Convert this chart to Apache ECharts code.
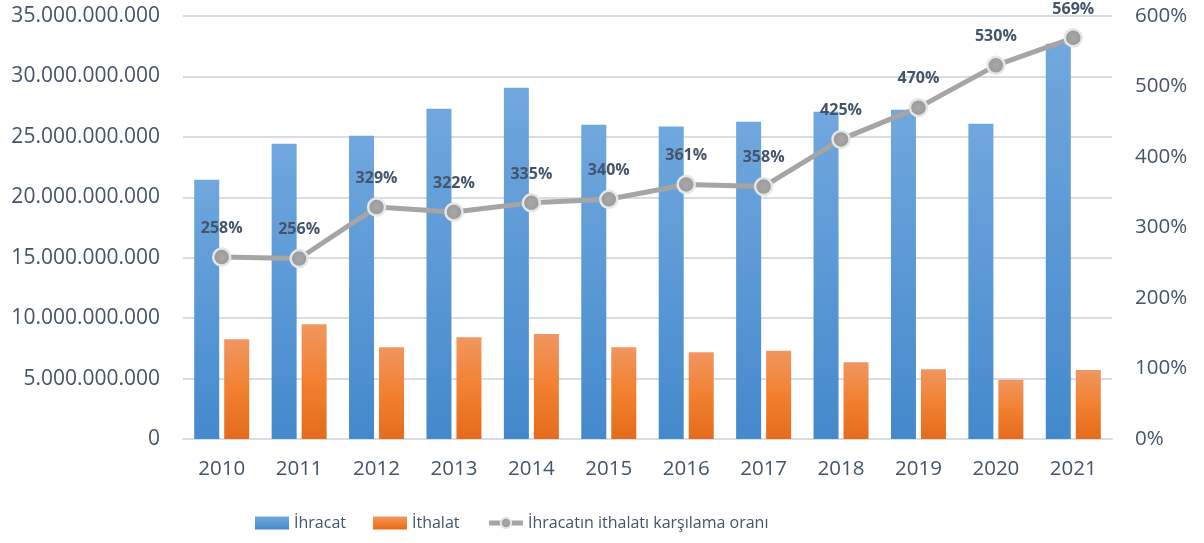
<!DOCTYPE html>
<html>
<head>
<meta charset="utf-8">
<script src="https://cdn.jsdelivr.net/npm/echarts@6/dist/echarts.min.js"></script>
<style>
  html, body { margin: 0; padding: 0; background: #ffffff; }
  #chart { width: 1204px; height: 543px; }
</style>
</head>
<body>
<div id="chart"></div>
<script>
// Yıllar
const years = ['2010', '2011', '2012', '2013', '2014', '2015', '2016', '2017', '2018', '2019', '2020', '2021'];
// İhracat değerleri
const ihracat = [21460000000, 24430000000, 25100000000, 27320000000, 29060000000, 26000000000,
                 25850000000, 26250000000, 27080000000, 27240000000, 26080000000, 32700000000];
// İthalat değerleri
const ithalat = [8250000000, 9500000000, 7600000000, 8420000000, 8680000000, 7600000000,
                 7180000000, 7300000000, 6360000000, 5780000000, 4900000000, 5700000000];
// İhracatın ithalatı karşılama oranı (%)
const oran = [258, 256, 329, 322, 335, 340, 361, 358, 425, 470, 530, 569];

const textColor = '#44546a';
const fontFamily = '"Open Sans", "Noto Sans", sans-serif';

function dotted(v) {
  return String(Math.round(v)).replace(/\B(?=(\d{3})+(?!\d))/g, '.');
}

const chart = echarts.init(document.getElementById('chart'));
chart.setOption({
  animation: false,
  textStyle: { fontFamily: fontFamily },
  grid: { left: 183, right: 92, top: 16, bottom: 104, containLabel: false },
  legend: {
    bottom: 7,
    left: 250,
    itemGap: 27,
    itemWidth: 34,
    itemHeight: 13,
    textStyle: { color: textColor, fontSize: 16, fontFamily: fontFamily, padding: [0, 0, 0, 0] },
    lineStyle: { width: 5 },
    data: [
      { name: 'İhracat', icon: 'rect' },
      { name: 'İthalat', icon: 'rect' },
      { name: 'İhracatın ithalatı karşılama oranı' }
    ]
  },
  xAxis: {
    type: 'category',
    data: years,
    axisLine: { show: true, lineStyle: { color: '#d9dde3', width: 2 } },
    axisTick: { show: false },
    axisLabel: { color: textColor, fontSize: 20.5, margin: 20 }
  },
  yAxis: [
    {
      type: 'value',
      min: 0,
      max: 35000000000,
      interval: 5000000000,
      axisLine: { show: false },
      axisTick: { show: false },
      splitLine: { lineStyle: { color: '#d9dde3', width: 2 } },
      axisLabel: { color: textColor, fontSize: 21, margin: 23, formatter: dotted }
    },
    {
      type: 'value',
      min: 0,
      max: 600,
      interval: 100,
      axisLine: { show: false },
      axisTick: { show: false },
      splitLine: { show: false },
      axisLabel: { color: textColor, fontSize: 20.5, margin: 23, formatter: '{value}%' }
    }
  ],
  series: [
    {
      name: 'İhracat',
      type: 'bar',
      data: ihracat,
      barWidth: 25,
      barGap: '20%',
      itemStyle: {
        color: new echarts.graphic.LinearGradient(0, 0, 0, 1, [
          { offset: 0, color: '#70a7de' },
          { offset: 1, color: '#4489cc' }
        ])
      }
    },
    {
      name: 'İthalat',
      type: 'bar',
      data: ithalat,
      barWidth: 25,
      itemStyle: {
        color: new echarts.graphic.LinearGradient(0, 0, 0, 1, [
          { offset: 0, color: '#f19660' },
          { offset: 0.5, color: '#f28030' },
          { offset: 1, color: '#e46c1c' }
        ])
      }
    },
    {
      name: 'İhracatın ithalatı karşılama oranı',
      type: 'line',
      yAxisIndex: 1,
      data: oran,
      symbol: 'circle',
      symbolSize: 17,
      lineStyle: { color: '#a5a5a5', width: 5 },
      itemStyle: {
        color: new echarts.graphic.RadialGradient(0.5, 0.5, 0.5, [
          { offset: 0, color: '#a8a8a8' },
          { offset: 1, color: '#979797' }
        ]),
        borderColor: '#e6e6e6',
        borderWidth: 2.5
      },
      label: {
        show: true,
        position: 'top',
        distance: 11,
        color: textColor,
        fontWeight: 'bold',
        fontSize: 16,
        formatter: '{c}%'
      },
      z: 5
    }
  ]
});
</script>
</body>
</html>
